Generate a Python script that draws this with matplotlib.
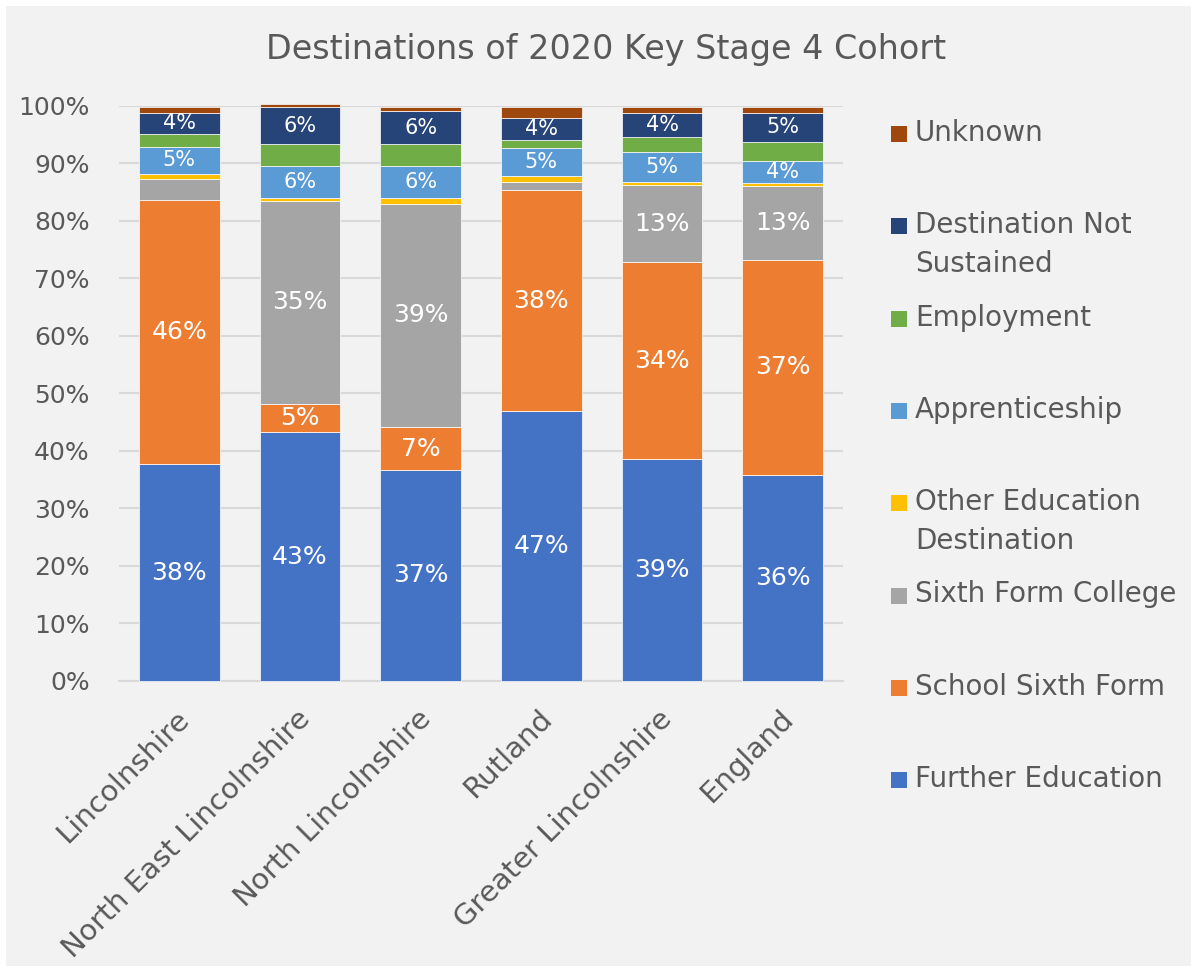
import matplotlib
matplotlib.use("Agg")
import matplotlib.pyplot as plt
from matplotlib.patches import Rectangle
from matplotlib.transforms import ScaledTranslation

# Areas shown along the x axis
categories = ["Lincolnshire", "North East Lincolnshire", "North Lincolnshire",
              "Rutland", "Greater Lincolnshire", "England"]

# Share of the cohort (%) for each destination, bottom of the stack first
further_education = [37.7, 43.2, 36.7, 46.9, 38.6, 35.8]
school_sixth_form = [45.9, 5.0, 7.4, 38.4, 34.2, 37.4]
sixth_form_college = [3.7, 35.2, 38.9, 1.4, 13.4, 12.9]
other_education = [0.9, 0.5, 1.0, 1.0, 0.5, 0.5]
apprenticeship = [4.6, 5.6, 5.6, 5.0, 5.2, 3.8]
employment = [2.3, 3.8, 3.8, 1.4, 2.7, 3.3]
not_sustained = [3.7, 6.4, 5.6, 3.7, 4.2, 5.1]
unknown = [0.9, 0.6, 0.8, 1.9, 0.9, 0.9]

series_names = ["Further Education", "School Sixth Form", "Sixth Form College",
                "Other Education\nDestination", "Apprenticeship", "Employment",
                "Destination Not\nSustained", "Unknown"]
series_values = [further_education, school_sixth_form, sixth_form_college,
                 other_education, apprenticeship, employment, not_sustained, unknown]
series_colors = ["#4472C4", "#ED7D31", "#A5A5A5", "#FFC000",
                 "#5B9BD5", "#70AD47", "#264478", "#9E480E"]

# Which series get value labels: (minimum value to show, font size)
label_rules = {0: (0, 18), 1: (0, 18), 2: (5, 18), 4: (0, 15), 6: (0, 15)}

TEXT_GREY = "#595959"
GRID_GREY = "#D9D9D9"
W, H = 1198, 972


def draw_bars(ax):
    x = range(len(categories))
    bottoms = [0.0] * len(categories)
    for i, (vals, color) in enumerate(zip(series_values, series_colors)):
        bars = ax.bar(x, vals, width=0.67, bottom=bottoms, color=color,
                      edgecolor="white", linewidth=0.5, zorder=3, clip_on=False)
        if i in label_rules:
            min_val, size = label_rules[i]
            for bar, v in zip(bars, vals):
                if v >= min_val:
                    ax.text(bar.get_x() + bar.get_width() / 2,
                            bar.get_y() + bar.get_height() / 2,
                            f"{round(v)}%", ha="center", va="center",
                            color="white", fontsize=size, zorder=4)
        bottoms = [b + v for b, v in zip(bottoms, vals)]


def draw_legend(fig):
    # Entries are evenly spaced top to bottom, in reverse stacking order
    top_px, step_px = 134, 92.3
    entries = list(zip(series_names, series_colors))[::-1]
    for i, (name, color) in enumerate(entries):
        y_px = top_px + i * step_px
        fig.patches.append(Rectangle((891 / W, 1 - (y_px + 8) / H), 16 / W, 16 / H,
                                     transform=fig.transFigure, facecolor=color,
                                     edgecolor="none"))
        fig.text(915 / W, 1 - (y_px - 15) / H, name, ha="left", va="top",
                 fontsize=20, color=TEXT_GREY, linespacing=1.47)


def main():
    fig = plt.figure(figsize=(W / 100, H / 100), dpi=100, facecolor="white")
    # Light grey chart area inside a thin white margin
    fig.patches.append(Rectangle((6 / W, 6 / H), 1185 / W, 960 / H,
                                 transform=fig.transFigure, facecolor="#F2F2F2",
                                 edgecolor="none", zorder=-5))

    ax = fig.add_axes([119 / W, 1 - 681 / H, 724 / W, 575.3 / H])
    ax.set_facecolor("none")
    draw_bars(ax)

    ax.set_xlim(-0.5, len(categories) - 0.5)
    ax.set_ylim(0, 100)
    ax.set_yticks(range(0, 101, 10))
    ax.set_yticklabels([f"{t}%" for t in range(0, 101, 10)])
    ax.yaxis.grid(True, color=GRID_GREY, linewidth=1.5, zorder=0)
    ax.set_axisbelow(True)
    for side in ["top", "right", "left"]:
        ax.spines[side].set_visible(False)
    ax.spines["bottom"].set_color(GRID_GREY)
    ax.spines["bottom"].set_linewidth(1.5)
    ax.tick_params(axis="y", length=0, pad=21, labelsize=18, labelcolor=TEXT_GREY)
    ax.tick_params(axis="x", length=0, pad=17, labelsize=21, labelcolor=TEXT_GREY)

    ax.set_xticks(range(len(categories)))
    ax.set_xticklabels(categories, rotation=45, ha="right", va="top",
                       rotation_mode="anchor")
    shift = ScaledTranslation(-4 / 100, 0, fig.dpi_scale_trans)
    for lbl in ax.get_xticklabels():
        lbl.set_transform(lbl.get_transform() + shift)

    fig.text(606 / W, 1 - 50 / H, "Destinations of 2020 Key Stage 4 Cohort",
             ha="center", va="center", fontsize=24, color=TEXT_GREY)

    draw_legend(fig)
    fig.savefig("out.png", dpi=100, facecolor=fig.get_facecolor())


if __name__ == "__main__":
    main()
